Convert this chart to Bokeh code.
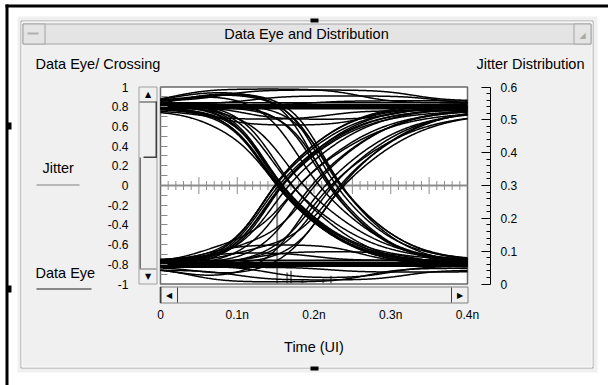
import numpy as np
from bokeh.plotting import figure
from bokeh.models import Range1d, LinearAxis, FixedTicker, CustomJSTickFormatter
from bokeh.core.properties import value
from bokeh.embed import file_html
from bokeh.resources import INLINE

# ---------------- data ----------------
time_ticks = [0.0, 0.1, 0.2, 0.3, 0.4]                      # ns  -> "0", "0.1n", ...
eye_ticks = [-1.0, -0.8, -0.6, -0.4, -0.2, 0.0, 0.2, 0.4, 0.6, 0.8, 1.0]
jitter_ticks = [0.0, 0.1, 0.2, 0.3, 0.4, 0.5, 0.6]

# falling edges (1 -> 0): level at start, final level, zero crossing (ns), edge slowness,
# extra level change before the edge and when it happens (ns)
fall_start = [0.80, 0.83, 0.78, 0.85, 0.80, 0.82, 0.79, 0.76, 0.86, 0.81,
              0.80, 0.84, 0.84, 0.82, 0.85, 0.80, 0.86, 0.81, 0.83]
fall_end = [-0.80, -0.78, -0.82, -0.76, -0.84, -0.79, -0.80, -0.81, -0.77, -0.83,
            -0.78, -0.80, -0.79, -0.80, -0.76, -0.83, -0.78, -0.81, -0.79]
fall_cross = [0.152, 0.153, 0.154, 0.155, 0.156, 0.157, 0.158, 0.162, 0.166, 0.170,
              0.186, 0.200, 0.214, 0.218, 0.221, 0.224, 0.227, 0.230, 0.234]
fall_slow = [1.00, 0.95, 1.02, 0.98, 1.05, 1.00, 0.97, 1.08, 1.10, 1.04,
             1.10, 1.05, 0.85, 0.90, 0.88, 0.92, 0.95, 0.90, 0.93]
fall_pre = [0.0, 0.0, 0.0, 0.0, 0.0, 0.0, 0.0, -0.12, 0.0, 0.06,
            0.0, 0.10, 0.12, 0.0, 0.10, 0.0, 0.08, 0.14, 0.0]
fall_pre_at = [0.0, 0.0, 0.0, 0.0, 0.0, 0.0, 0.0, 0.06, 0.0, 0.05,
               0.0, 0.03, 0.02, 0.0, 0.05, 0.0, 0.04, 0.03, 0.0]

# rising edges (0 -> 1)
rise_start = [-0.80, -0.78, -0.82, -0.76, -0.84, -0.80, -0.81, -0.79, -0.82, -0.78,
              -0.80, -0.84, -0.77, -0.81, -0.79, -0.83, -0.80, -0.78]
rise_end = [0.80, 0.82, 0.78, 0.84, 0.79, 0.76, 0.81, 0.80, 0.77, 0.75,
            0.78, 0.76, 0.79, 0.74, 0.77, 0.75, 0.78, 0.80]
rise_cross = [0.150, 0.151, 0.152, 0.153, 0.155, 0.157, 0.159, 0.168, 0.178, 0.188,
              0.196, 0.204, 0.211, 0.218, 0.224, 0.229, 0.236, 0.242]
rise_slow = [1.00, 0.96, 1.03, 0.98, 1.05, 1.02, 0.99, 1.08, 1.10, 1.12,
             1.05, 1.10, 1.00, 1.15, 1.05, 1.12, 1.00, 1.08]
rise_pre = [0.0, 0.0, 0.0, 0.0, 0.0, 0.0, 0.0, 0.0, 0.0, 0.15,
            0.0, -0.12, 0.16, 0.0, 0.0, -0.10, 0.0, 0.12]
rise_pre_at = [0.0, 0.0, 0.0, 0.0, 0.0, 0.0, 0.0, 0.0, 0.0, 0.05,
               0.0, 0.03, 0.08, 0.0, 0.0, 0.05, 0.0, 0.09]

# steady high / low traces: level, bump amplitude, bump start, bump end (ns)
high_level = [0.80, 0.79, 0.81, 0.78, 0.82, 0.84, 0.84, 0.86, 0.83, 0.78, 0.80, 0.76, 0.82]
high_bump = [0.00, 0.00, 0.00, 0.00, 0.00, 0.00, 0.14, 0.11, 0.08, -0.17, -0.13, -0.09, 0.04]
high_on = [0.10, 0.10, 0.10, 0.10, 0.10, 0.10, 0.02, 0.08, 0.12, 0.07, 0.11, 0.05, 0.20]
high_off = [0.30, 0.30, 0.30, 0.30, 0.30, 0.30, 0.26, 0.33, 0.36, 0.27, 0.31, 0.22, 0.45]
low_level = [-0.80, -0.79, -0.81, -0.78, -0.82, -0.76, -0.84, -0.86, -0.82, -0.78, -0.80, -0.76, -0.83]
low_bump = [0.00, 0.00, 0.00, 0.00, 0.00, 0.00, -0.14, -0.10, -0.12, 0.18, 0.13, 0.08, -0.05]
low_on = [0.10, 0.10, 0.10, 0.10, 0.10, 0.10, 0.04, 0.10, 0.14, 0.06, 0.12, 0.05, 0.22]
low_off = [0.30, 0.30, 0.30, 0.30, 0.30, 0.30, 0.27, 0.32, 0.30, 0.26, 0.33, 0.20, 0.45]

# jitter distribution histogram (crossing time ns, fraction)
jitter_time = [0.152, 0.165, 0.170, 0.185, 0.212, 0.222]
jitter_height = [0.30, 0.035, 0.040, 0.015, 0.015, 0.025]

# ---------------- waveform shaping ----------------
T = np.linspace(0.0, 0.4, 401)
EDGE_W, EDGE_SKEW, BUMP_W = 0.080, 0.018, 0.045


def step(dt, slow):
    w = slow * (EDGE_W + EDGE_SKEW * np.tanh(dt / 0.04))
    return 0.5 * (1.0 + np.tanh(dt / w))


def ramp(t0):
    return 0.5 * (1.0 + np.tanh((T - t0) / BUMP_W))


xs, ys = [], []
for v0, v1, tc, k, pre, pat in zip(fall_start + rise_start, fall_end + rise_end,
                                   fall_cross + rise_cross, fall_slow + rise_slow,
                                   fall_pre + rise_pre, fall_pre_at + rise_pre_at):
    before = v0 + pre * ramp(pat)
    xs.append(T)
    ys.append(before + (v1 - before) * step(T - tc, k))
for lvl, amp, on, off in zip(high_level + low_level, high_bump + low_bump,
                             high_on + low_on, high_off + low_off):
    xs.append(T)
    ys.append(lvl + amp * (ramp(on) - ramp(off)))

# ---------------- layout (canvas pixels, y downwards) ----------------
W, H = 608, 385
PLOT_L, PLOT_R, PLOT_T, PLOT_B = 160.0, 467.0, 86.5, 283.5
JIT_AXIS_X = 490.0
FONT = "Liberation Sans"
PANEL = "#f0f0f0"

px_per_ns = (PLOT_R - PLOT_L) / (time_ticks[-1] - time_ticks[0])
px_per_v = (PLOT_B - PLOT_T) / (eye_ticks[-1] - eye_ticks[0])
px_per_j = (PLOT_B - PLOT_T) / (jitter_ticks[-1] - jitter_ticks[0])

p = figure(width=W, height=H, x_range=Range1d(0, W), y_range=Range1d(H, 0),
           x_axis_location=None, y_axis_location=None, title=None,
           min_border=0, min_border_left=0, min_border_right=0,
           min_border_top=0, min_border_bottom=0,
           output_backend="svg", toolbar_location=None,
           background_fill_color="white", border_fill_color="white")
p.outline_line_color = None
p.grid.visible = False
p.extra_x_ranges = {"t": Range1d(time_ticks[0] - PLOT_L / px_per_ns,
                                 time_ticks[-1] + (W - PLOT_R) / px_per_ns)}
p.extra_y_ranges = {
    "v": Range1d(eye_ticks[0] - (H - PLOT_B) / px_per_v, eye_ticks[-1] + PLOT_T / px_per_v),
    "j": Range1d(jitter_ticks[0] - (H - PLOT_B) / px_per_j, jitter_ticks[-1] + PLOT_T / px_per_j),
}


def box(l, t, r, b, fill=None, line=None, lw=1):
    p.quad(left=[l], right=[r], top=[t], bottom=[b],
           fill_color=fill, fill_alpha=1 if fill else 0,
           line_color=line, line_alpha=1 if line else 0, line_width=lw)


def label(x, y, text, size="14.5px", align="left", font=FONT, color="black"):
    p.text(x=[x], y=[y], text=[text], text_font=value(font), text_font_size=value(size),
           text_align=align, text_baseline="middle", text_color=color)


# panel
box(17, 16, 597, 372, PANEL)
box(5, 4, 608, 7, "black")
box(5, 4, 8, 385, "black")
box(6, 122, 11, 129, "black")
box(6, 285, 11, 292, "black")
box(20.5, 20.5, 592.5, 367.5, None, "#a4a4a4")
box(21.5, 21.5, 591.5, 366.5, None, "#fbfbfb")
box(22.5, 23.5, 590.5, 43.5, "#e4e4e4", "#a4a4a4")
box(22.5, 23.5, 44.5, 43.5, "#e4e4e4", "#a4a4a4")
box(27, 32, 38, 34, "#b0b0b0")
box(573.5, 23.5, 590.5, 43.5, "#e4e4e4", "#a4a4a4")
label(582, 35, "\u25e2", size="8px", align="center", font="DejaVu Sans", color="#a8a8a8")
box(310, 18, 318, 22, "black")
box(310, 366, 318, 370, "black")
label(306, 33.5, "Data Eye and Distribution", align="center")

label(35, 63, "Data Eye/ Crossing")
label(584, 63, "Jitter Distribution", align="right")
label(42, 167, "Jitter")
box(36, 184, 79, 185, "#808080")
label(35, 272, "Data Eye")
box(36, 288, 91, 289, "#202020")

# vertical scrollbar
box(138.5, 86.5, 156.5, 283.5, "#f0f0f0", "#a0a0a0")
box(139, 101, 156, 102, "#404040")
box(155, 101, 156.5, 157, "#404040")
box(143, 156, 156.5, 157.5, "#404040")
box(139, 157, 140.5, 268, "#707070")
box(139, 268, 156, 269, "#707070")
label(147.5, 93.5, "\u25b2", size="8px", align="center", font="DejaVu Sans")
label(147.5, 276, "\u25bc", size="8px", align="center", font="DejaVu Sans")

# horizontal scrollbar
box(159.5, 286.5, 467.5, 302.5, "#f0f0f0", "#808080")
box(159.5, 286.5, 161, 302.5, "#404040")
box(176.5, 287, 177.5, 302, "#404040")
box(450.5, 287, 451.5, 302, "#404040")
label(168.5, 294.5, "\u25c0", size="8px", align="center", font="DejaVu Sans")
label(459.5, 294.5, "\u25b6", size="8px", align="center", font="DejaVu Sans")

# plot area
p.quad(left=[time_ticks[0]], right=[time_ticks[-1]], bottom=[eye_ticks[0]], top=[eye_ticks[-1]],
       x_range_name="t", y_range_name="v", fill_color="white", line_color="#6a6a6a", line_width=1.5)
p.segment(x0=[time_ticks[0]], x1=[time_ticks[-1]], y0=[0], y1=[0], x_range_name="t", y_range_name="v",
          line_color="#8c8c8c", line_width=2)
zero_major = [i * 0.05 for i in range(1, 8)]
zero_minor = [i * 0.01 for i in range(1, 40) if i % 5]
p.scatter(zero_minor, [0] * len(zero_minor), marker="dash", angle=np.pi / 2, size=9,
          line_color="#8c8c8c", line_width=1, x_range_name="t", y_range_name="v")
p.scatter(zero_major, [0] * len(zero_major), marker="dash", angle=np.pi / 2, size=17,
          line_color="#8c8c8c", line_width=1, x_range_name="t", y_range_name="v")

# jitter histogram
p.vbar(x=jitter_time, top=jitter_height, bottom=0, width=0.0026, x_range_name="t", y_range_name="j",
       fill_color="#808080", line_color=None)

# eye traces
p.multi_line(xs, ys, line_color="black", line_width=1.5, x_range_name="t", y_range_name="v")

# ---------------- axes ----------------
num_fmt = CustomJSTickFormatter(code="const v = Math.round(tick*10)/10; return v == 0 ? '0' : String(v);")


def minor(ticks, n):
    out = []
    for a, b in zip(ticks[:-1], ticks[1:]):
        out += [a + (b - a) * i / n for i in range(1, n)]
    return out


ya = LinearAxis(x_range_name="t", y_range_name="v", fixed_location=time_ticks[0],
                bounds=(eye_ticks[0], eye_ticks[-1]),
                ticker=FixedTicker(ticks=eye_ticks, minor_ticks=minor(eye_ticks, 2)),
                formatter=num_fmt, axis_line_color=None,
                major_tick_in=7, major_tick_out=0, minor_tick_in=7, minor_tick_out=0,
                major_tick_line_color="#8a8a8a", minor_tick_line_color="#8a8a8a",
                major_label_standoff=32, major_label_text_font=FONT,
                major_label_text_font_size="12px", major_label_text_color="black")
p.add_layout(ya, "left")

xa = LinearAxis(x_range_name="t", y_range_name="v", fixed_location=eye_ticks[0],
                bounds=(time_ticks[0], time_ticks[-1]),
                ticker=FixedTicker(ticks=time_ticks),
                formatter=CustomJSTickFormatter(code="const v = Math.round(tick*10)/10; return v == 0 ? '0' : v + 'n';"),
                axis_line_color=None, major_tick_line_color=None, minor_tick_line_color=None,
                major_tick_in=0, major_tick_out=0, minor_tick_in=0, minor_tick_out=0,
                major_label_standoff=24, major_label_text_font=FONT,
                major_label_text_font_size="12px", major_label_text_color="black",
                axis_label="Time (UI)", axis_label_standoff=13, axis_label_text_font=FONT,
                axis_label_text_font_size="14.5px", axis_label_text_font_style="normal",
                axis_label_text_color="black")
p.add_layout(xa, "below")

ja = LinearAxis(x_range_name="t", y_range_name="j",
                fixed_location=time_ticks[-1] + (JIT_AXIS_X - PLOT_R) / px_per_ns,
                bounds=(jitter_ticks[0], jitter_ticks[-1]),
                ticker=FixedTicker(ticks=jitter_ticks, minor_ticks=minor(jitter_ticks, 5)),
                formatter=num_fmt, axis_line_color="black", axis_line_width=1,
                major_tick_in=9, major_tick_out=0, minor_tick_in=4, minor_tick_out=0,
                major_tick_line_color="black", minor_tick_line_color="black",
                major_label_standoff=10, major_label_text_font=FONT,
                major_label_text_font_size="12px", major_label_text_color="black")
p.add_layout(ja, "right")

open("out.html", "w").write(file_html(p, INLINE))
